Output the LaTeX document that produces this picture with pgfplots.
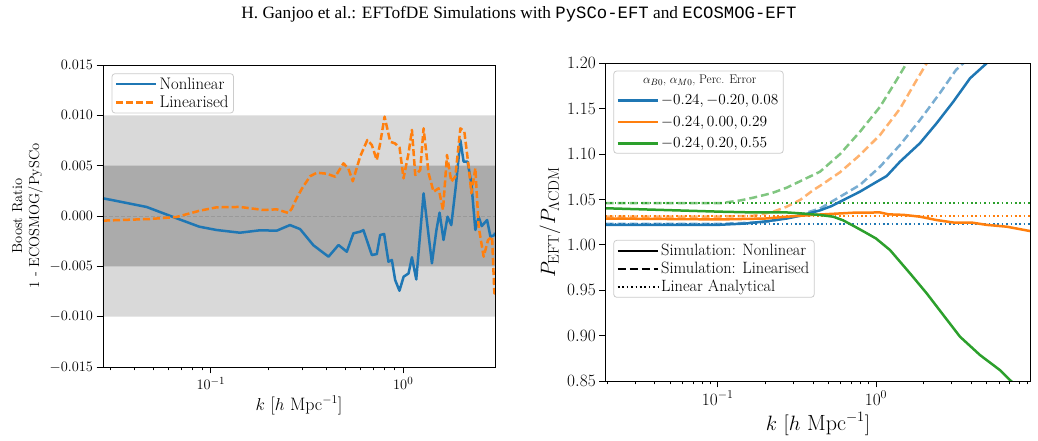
\documentclass[border=0pt]{standalone}
\usepackage{fontspec}
\usepackage{graphicx}
\usepackage{pgfplots}
\pgfplotsset{compat=1.18}
\newfontfamily\titlefont{Liberation Serif}
\newfontfamily\titlemono{Liberation Mono}
\newcommand{\legfont}{\fontsize{15}{18}\selectfont}
\newcommand{\legw}[2]{\resizebox{#1}{!}{#2}}
\definecolor{tabblue}{HTML}{1F77B4}
\definecolor{taborange}{HTML}{FF7F0E}
\definecolor{tabgreen}{HTML}{2CA02C}
\definecolor{lightband}{RGB}{217,217,217}
\definecolor{darkband}{RGB}{171,171,171}
\definecolor{legframe}{RGB}{204,204,204}
\begin{document}
\begin{tikzpicture}
\path[use as bounding box] (0,0) rectangle (1038pt,441pt);
\node[font=\titlefont\fontsize{17.3}{21}\selectfont] at (519pt,427pt) {H. Ganjoo et al.: EFTofDE Simulations with {\titlemono PySCo-EFT} and {\titlemono ECOSMOG-EFT}};

% ---------------- Left panel ----------------
\begin{axis}[scale only axis, xmode=log,
  axis line style={line width=0.8pt},
  tick align=outside, tick pos=left,
  major tick length=6.5pt, minor tick length=3.5pt,
  tick style={black, line width=0.8pt},
  legend cell align=left,
  legend image code/.code={\draw[#1] (0pt,0pt) -- (32pt,0pt); \path (0pt,0pt) -- (40pt,0pt);},
  at={(103pt,74pt)}, anchor=south west, width=392pt, height=302pt,
  xmin=0.0275, xmax=3.0, ymin=-0.015, ymax=0.015,
  ytick={-0.015,-0.01,-0.005,0,0.005,0.01,0.015},
  scaled y ticks=false,
  yticklabel style={/pgf/number format/fixed, /pgf/number format/fixed zerofill, /pgf/number format/precision=3},
  tick label style={font=\fontsize{15}{18}\selectfont},
  xlabel={$k$ [$h$ Mpc$^{-1}$]}, xlabel style={font=\fontsize{18}{22}\selectfont},
  ylabel={Boost Ratio\\1 - ECOSMOG/PySCo}, ylabel style={align=center, font=\fontsize{14.5}{17}\selectfont},
  legend style={draw=legframe, rounded corners=3pt, fill=white, fill opacity=0.8, text opacity=1, line width=0.8pt,
    at={(0.022,0.9725)}, anchor=north west, font=\legfont, row sep=1pt},
  axis on top]
\addplot[draw=none, fill=lightband, forget plot] coordinates {(0.0275,-0.01) (3.0,-0.01) (3.0,0.01) (0.0275,0.01) (0.0275,-0.01)};
\addplot[draw=none, fill=darkband, forget plot] coordinates {(0.0275,-0.005) (3.0,-0.005) (3.0,0.005) (0.0275,0.005) (0.0275,-0.005)};
\addplot[gray!80, line width=0.8pt, dash pattern=on 4pt off 2pt, forget plot] coordinates {(0.0275,0) (3.0,0)};
\addplot[tabblue, line width=2.5pt, line join=round] coordinates {
(0.0275,0.00176) (0.0463,0.00090) (0.0637,-0.00010) (0.0870,-0.00106) (0.107,-0.00139)
(0.1416,-0.00166) (0.180,-0.00142) (0.220,-0.00146) (0.2578,-0.00090) (0.291,-0.00130)
(0.341,-0.00290) (0.378,-0.00355) (0.409,-0.00404) (0.461,-0.00288) (0.509,-0.00355)
(0.551,-0.00172) (0.597,-0.00156) (0.621,-0.00140) (0.687,-0.00388) (0.729,-0.00378)
(0.759,-0.00189) (0.796,-0.00179) (0.838,-0.00454) (0.873,-0.00437) (0.908,-0.00636)
(0.956,-0.00742) (1.005,-0.00603) (1.066,-0.00570) (1.110,-0.00410) (1.169,-0.00630)
(1.276,0.00225) (1.410,-0.00470) (1.488,-0.00140) (1.545,0.00033) (1.620,-0.00238)
(1.700,-0.00007) (1.778,-0.00090) (1.880,0.00308) (1.982,0.00755) (2.060,0.00540)
(2.160,0.00540) (2.261,0.00325) (2.371,-0.00139) (2.467,-0.00007) (2.560,-0.00100)
(2.730,-0.00040) (2.840,-0.00205) (2.978,-0.00190) (3.0,-0.00166)};
\addlegendentry{\legw{65pt}{Nonlinear}}
\addplot[taborange, line width=2.5pt, dash pattern=on 7pt off 3pt, line join=round] coordinates {
(0.0275,-0.00046) (0.0481,-0.00030) (0.0662,-0.00010) (0.0876,0.00053) (0.107,0.00086)
(0.1416,0.00090) (0.187,0.00060) (0.220,0.00066) (0.2529,0.00030) (0.263,0.00070)
(0.2792,0.00176) (0.297,0.00270) (0.328,0.00395) (0.356,0.00430) (0.401,0.00420)
(0.443,0.00390) (0.489,0.00523) (0.519,0.00470) (0.547,0.00345) (0.597,0.00590)
(0.651,0.00755) (0.687,0.00705) (0.729,0.00556) (0.759,0.00722) (0.800,0.00987)
(0.856,0.00738) (0.908,0.00720) (0.957,0.00680) (1.004,0.00374) (1.066,0.00623)
(1.110,0.00855) (1.155,0.00407) (1.226,0.00457) (1.276,0.00871) (1.355,0.00424)
(1.438,0.00241) (1.527,0.00275) (1.610,0.00060) (1.689,0.00606) (1.778,0.00341)
(1.866,0.00391) (1.982,0.00871) (2.078,0.00840) (2.189,0.00490) (2.261,0.00225)
(2.371,0.00474) (2.467,-0.00106) (2.619,-0.00404) (2.761,-0.00238) (2.897,-0.00205)
(2.978,-0.00770) (3.0,-0.00750)};
\addlegendentry{\legw{69pt}{Linearised}}
\end{axis}

% ---------------- Right panel ----------------
\begin{axis}[scale only axis, xmode=log,
  axis line style={line width=0.8pt},
  tick align=outside, tick pos=left,
  major tick length=6.5pt, minor tick length=3.5pt,
  tick style={black, line width=0.8pt},
  legend cell align=left,
  legend image code/.code={\draw[#1] (0pt,0pt) -- (32pt,0pt); \path (0pt,0pt) -- (40pt,0pt);},
  at={(605.7pt,60pt)}, anchor=south west, width=424.3pt, height=317.7pt,
  xmin=0.0196, xmax=9.4, ymin=0.85, ymax=1.2,
  ytick={0.85,0.90,0.95,1.00,1.05,1.10,1.15,1.20},
  yticklabel style={/pgf/number format/fixed, /pgf/number format/fixed zerofill, /pgf/number format/precision=2},
  tick label style={font=\fontsize{16.5}{19}\selectfont},
  xlabel={$k\ [h\ \mathrm{Mpc}^{-1}]$}, xlabel style={font=\fontsize{22}{26}\selectfont},
  ylabel={$P_{\mathrm{EFT}}/P_{\Lambda\mathrm{CDM}}$}, ylabel style={font=\fontsize{22}{26}\selectfont},
  legend style={draw=legframe, rounded corners=3pt, fill=white, fill opacity=0.8, text opacity=1, line width=0.8pt,
    at={(0.018,0.977)}, anchor=north west, font=\legfont, row sep=6pt},
  axis on top]
\addlegendimage{empty legend}
\addlegendentry{\hspace*{-18pt}\legw{113pt}{$\alpha_{B0}$, $\alpha_{M0}$, Perc. Error}}
\addlegendimage{tabblue, line width=2.5pt}
\addlegendentry{\legw{117pt}{$-0.24, -0.20, 0.08$}}
\addlegendimage{taborange, line width=2.5pt}
\addlegendentry{\legw{106pt}{$-0.24, 0.00, 0.29$}}
\addlegendimage{tabgreen, line width=2.5pt}
\addlegendentry{\legw{106pt}{$-0.24, 0.20, 0.55$}}
% dashed (linearised)
\addplot[tabblue, opacity=0.6, line width=2.5pt, dash pattern=on 8pt off 4pt, forget plot] coordinates {
(0.0196,1.023) (0.1,1.023) (0.2,1.025) (0.3,1.031) (0.443,1.040) (0.593,1.053) (0.792,1.066)
(1.06,1.086) (1.418,1.110) (1.896,1.1375) (2.53,1.167) (3.2,1.1926) (3.56,1.20) (4.0,1.21)};
\addplot[taborange, opacity=0.6, line width=2.5pt, dash pattern=on 8pt off 4pt, forget plot] coordinates {
(0.0196,1.031) (0.1,1.031) (0.167,1.032) (0.22,1.036) (0.273,1.042) (0.331,1.0494) (0.402,1.0604)
(0.443,1.065) (0.593,1.080) (0.792,1.099) (1.06,1.121) (1.418,1.150) (1.807,1.1816) (2.09,1.20) (2.3,1.21)};
\addplot[tabgreen, opacity=0.6, line width=2.5pt, dash pattern=on 8pt off 4pt, forget plot] coordinates {
(0.0196,1.046) (0.105,1.046) (0.14,1.049) (0.168,1.052) (0.22,1.057) (0.273,1.063) (0.331,1.070)
(0.443,1.0806) (0.593,1.100) (0.792,1.1246) (1.06,1.152) (1.35,1.1816) (1.56,1.20) (1.7,1.21)};
% dotted (linear analytical)
\addplot[tabblue, line width=2pt, dash pattern=on 1.6pt off 2.8pt, forget plot] coordinates {(0.0196,1.0233) (9.4,1.0233)};
\addplot[taborange, line width=2pt, dash pattern=on 1.6pt off 2.8pt, forget plot] coordinates {(0.0196,1.032) (9.4,1.032)};
\addplot[tabgreen, line width=2pt, dash pattern=on 1.6pt off 2.8pt, forget plot] coordinates {(0.0196,1.0458) (9.4,1.0458)};
% solid (nonlinear)
\addplot[tabblue, line width=2.5pt, forget plot] coordinates {
(0.0196,1.022) (0.05,1.022) (0.1,1.022) (0.15,1.0235) (0.204,1.026) (0.273,1.029) (0.331,1.032)
(0.383,1.035) (0.443,1.038) (0.52,1.0425) (0.593,1.0475) (0.792,1.0586) (1.0,1.069) (1.168,1.0758)
(1.418,1.0916) (1.896,1.112) (2.416,1.134) (3.08,1.1577) (3.93,1.1835) (5.0,1.20) (5.6,1.21)};
\addplot[taborange, line width=2.5pt, forget plot] coordinates {
(0.0196,1.029) (0.105,1.028) (0.2,1.029) (0.273,1.031) (0.4,1.033) (0.719,1.0354) (1.06,1.0357)
(1.2,1.0336) (1.5,1.033) (1.9,1.031) (2.4,1.0274) (3.08,1.0246) (4.0,1.0246) (5.0,1.022)
(6.7,1.020) (9.4,1.0152)};
\addplot[tabgreen, line width=2.5pt, forget plot] coordinates {
(0.0196,1.0403) (0.105,1.0365) (0.167,1.0357) (0.273,1.0357) (0.331,1.0347) (0.443,1.0329)
(0.537,1.031) (0.62,1.027) (0.719,1.021) (0.85,1.014) (1.0,1.007) (1.226,0.9943) (1.64,0.9686)
(2.09,0.9466) (2.662,0.9227) (3.394,0.8988) (4.54,0.8786) (6.07,0.862) (7.02,0.851) (8.0,0.843)};
\end{axis}
% second legend (line styles)
\begin{axis}[scale only axis, xmode=log, hide axis,
  legend cell align=left,
  legend image code/.code={\draw[#1] (0pt,0pt) -- (32pt,0pt); \path (0pt,0pt) -- (40pt,0pt);},
  at={(605.7pt,60pt)}, anchor=south west, width=424.3pt, height=317.7pt,
  xmin=0.0196, xmax=9.4, ymin=0.85, ymax=1.2,
  legend style={draw=legframe, rounded corners=3pt, fill=white, fill opacity=0.8, text opacity=1, line width=0.8pt,
    at={(0.018,0.444)}, anchor=north west, font=\legfont, row sep=1pt}]
\addlegendimage{black, line width=2.5pt}
\addlegendentry{\legw{145pt}{Simulation: Nonlinear}}
\addlegendimage{black, line width=2.5pt, dash pattern=on 8pt off 4pt}
\addlegendentry{\legw{148pt}{Simulation: Linearised}}
\addlegendimage{black, line width=2pt, dash pattern=on 1.6pt off 2.8pt}
\addlegendentry{\legw{114pt}{Linear Analytical}}
\end{axis}
\end{tikzpicture}
\end{document}
